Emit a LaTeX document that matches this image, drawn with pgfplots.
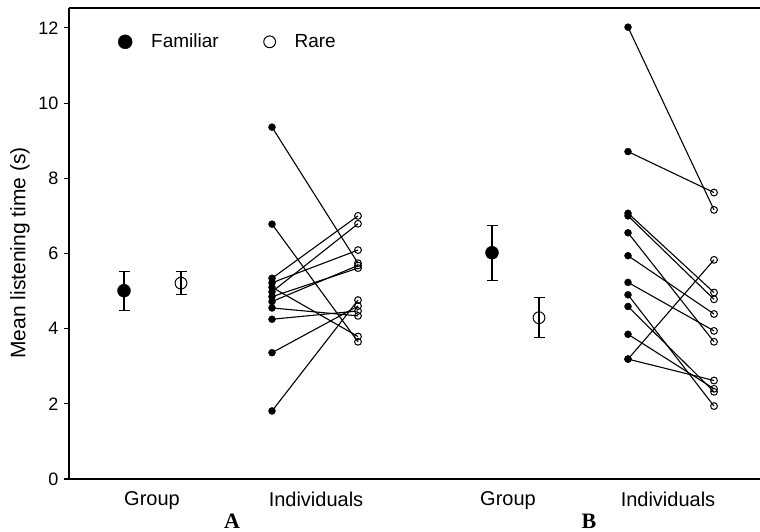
\documentclass[border=0pt]{standalone}
\usepackage{pgfplots}
\pgfplotsset{compat=1.18}
\usepackage{pgfplotstable}
\usepackage{fontspec}
\setmainfont{Liberation Sans}
\newfontfamily\panelfont{Liberation Serif}

% Individual listening times (s): familiar vs rare, study A
\pgfplotstableread{
fam rare
9.36 5.74
6.78 3.65
5.34 7.00
5.22 6.09
5.10 3.79
4.98 6.79
4.85 5.61
4.72 5.68
4.55 4.34
4.25 4.47
3.36 4.60
1.81 4.76
}\indA

% Individual listening times (s): familiar vs rare, study B
\pgfplotstableread{
fam rare
12.02 7.16
8.71 7.62
7.07 4.96
7.00 4.78
6.55 3.65
5.94 4.39
5.23 3.94
4.90 1.94
4.59 2.32
3.85 2.40
3.19 5.83
3.19 2.62
}\indB

% Group means with error bars
\pgfplotstableread{
x y err
124 5.01 0.52
492 6.02 0.73
}\grpFam
\pgfplotstableread{
x y err
181 5.21 0.31
539 4.29 0.53
}\grpRare

\begin{document}
\begin{tikzpicture}[x=1pt,y=1pt]
\useasboundingbox (0,0) rectangle (760,532);
\begin{axis}[
  at={(69pt,53pt)}, anchor=south west,
  scale only axis, width=691pt, height=471pt,
  xmin=69, xmax=760, ymin=0, ymax=12.53,
  axis x line*=box, axis y line*=left,
  axis line style={black, line width=1.2pt},
  clip=false,
  ytick={0,2,...,12},
  ytick pos=left,
  tick align=outside,
  major tick length=5pt,
  y tick style={black, line width=1.1pt},
  xtick={152,316,508,668},
  xticklabels={Group,Individuals,Group,Individuals},
  x tick style={draw=none},
  xtick pos=bottom,
  tick label style={font=\fontsize{18}{18}\selectfont},
  xticklabel style={font=\fontsize{20}{20}\selectfont, yshift=-4pt},
  /pgf/number format/assume math mode=true,
  yticklabel style={xshift=-2pt},
  ylabel={Mean listening time (s)},
  every axis y label/.style={at={(axis description cs:-0.071,0.48)}, rotate=90, anchor=center, font=\fontsize{21}{21}\selectfont},
  legend columns=2,
  legend style={draw=none, fill=none, at={(axis cs:115,11.63)}, anchor=west,
    font=\fontsize{19}{19}\selectfont,
    /tikz/every odd column/.append style={column sep=17pt},
    /tikz/every even column/.append style={column sep=43pt}},
]
% legend markers
\addlegendimage{only marks, mark=*, mark size=7pt, black}
\addlegendentry{Familiar}
\addlegendimage{only marks, mark=o, mark size=5.9pt, black, mark options={line width=1pt}}
\addlegendentry{Rare}

% paired lines for each individual
\addplot[black, line width=1.1pt, no markers,
  quiver={u=86, v=\thisrow{rare}-\thisrow{fam}}]
  table[x expr=272, y=fam]{\indA};
\addplot[black, line width=1.1pt, no markers,
  quiver={u=86, v=\thisrow{rare}-\thisrow{fam}}]
  table[x expr=628, y=fam]{\indB};

% individual points
\addplot[only marks, mark=*, mark size=3.5pt, black] table[x expr=272, y=fam]{\indA};
\addplot[only marks, mark=o, mark size=3.4pt, black, mark options={line width=1pt}] table[x expr=358, y=rare]{\indA};
\addplot[only marks, mark=*, mark size=3.5pt, black] table[x expr=628, y=fam]{\indB};
\addplot[only marks, mark=o, mark size=3.4pt, black, mark options={line width=1pt}] table[x expr=714, y=rare]{\indB};

% group means
\addplot[only marks, mark=*, mark size=6.5pt, black,
  error bars/.cd, y dir=both, y explicit,
  error bar style={line width=1.1pt},
  error mark options={black, mark size=5.5pt, line width=1.1pt, rotate=90}]
  table[x=x, y=y, y error=err]{\grpFam};
\addplot[only marks, mark=o, mark size=5.9pt, black, mark options={line width=1pt},
  error bars/.cd, y dir=both, y explicit,
  error bar style={line width=1.1pt},
  error mark options={black, mark size=5.5pt, line width=1.1pt, rotate=90}]
  table[x=x, y=y, y error=err]{\grpRare};
\end{axis}
\node[font=\panelfont\bfseries\fontsize{22}{22}\selectfont] at (232,11) {A};
\node[font=\panelfont\bfseries\fontsize{22}{22}\selectfont] at (589,11) {B};
\end{tikzpicture}
\end{document}
